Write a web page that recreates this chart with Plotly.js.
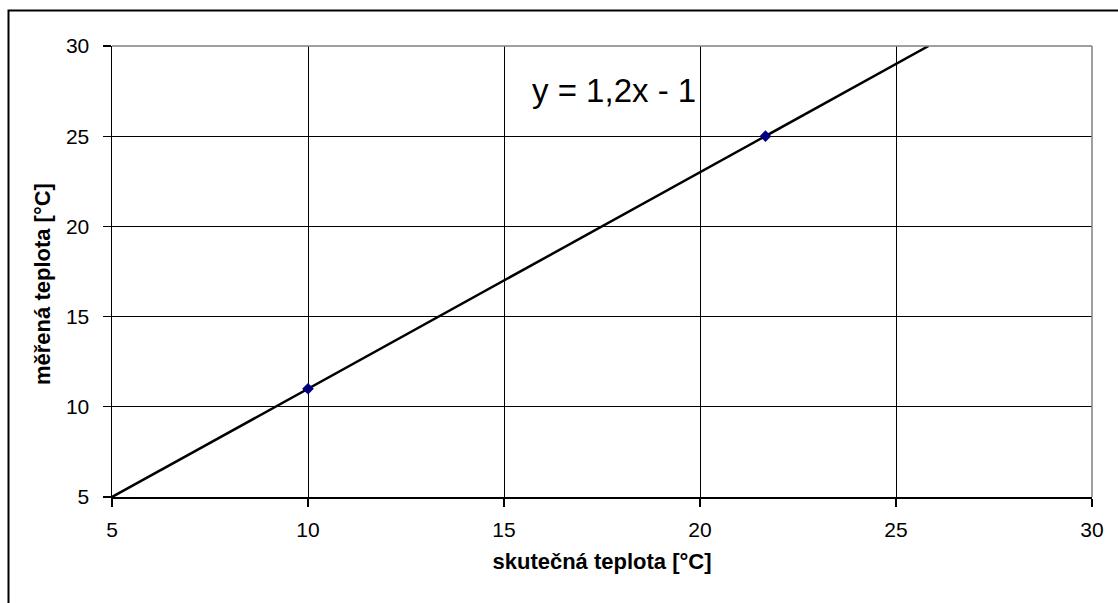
<!DOCTYPE html>
<html><head><meta charset="utf-8">
<script src="https://cdn.plot.ly/plotly-3.0.1.min.js"></script>
<style>html,body{margin:0;padding:0;background:#fff;}#chart{width:1118px;height:603px;}</style>
</head><body><div id="chart"></div>
<script>
// measured points
var pointX = [10, 21.67];
var pointY = [11, 25];
// trend line endpoints (y = 1,2x - 1)
var trendX = [5, 25.83];
var trendY = [5, 30];
var equationText = 'y = 1,2x - 1';
var xTitle = 'skutečná teplota [°C]';
var yTitle = 'měřená teplota [°C]';
var tickVals = [5, 10, 15, 20, 25, 30];

var W = 1118, H = 603, L = 112, R = 26, T = 46, B = 106;
var pw = W - L - R, ph = H - T - B;
function px2x(p){ return (p - L) / pw; }
function py2y(p){ return (H - B - p) / ph; }

var font = 'Arial, "Liberation Sans", sans-serif';
var traces = [
  {x: trendX, y: trendY, type: 'scatter', mode: 'lines', line: {color: '#000', width: 2.5}, hoverinfo: 'skip', cliponaxis: true},
  {x: pointX, y: pointY, type: 'scatter', mode: 'markers', marker: {symbol: 'diamond', size: 9, color: '#000080'}, cliponaxis: false}
];
function makeAxis(extra) {
  var a = {
    range: [5, 30],
    tickmode: 'array', tickvals: tickVals, ticktext: tickVals.map(String),
    showgrid: true, gridcolor: '#000', gridwidth: 1,
    zeroline: false, showline: true, linecolor: '#000', linewidth: 1.5,
    ticks: 'outside', ticklen: 8, tickcolor: '#000', tickwidth: 1.2,
    tickfont: {family: font, size: 21, color: '#000'}
  };
  for (var k in extra) a[k] = extra[k];
  return a;
}
var layout = {
  width: W, height: H,
  margin: {l: L, r: R, t: T, b: B},
  paper_bgcolor: '#fff', plot_bgcolor: '#fff',
  showlegend: false,
  font: {family: font, color: '#000', size: 21},
  xaxis: makeAxis({ticklabelstandoff: 5,
    title: {text: xTitle, font: {family: font, size: 22, weight: 'bold', color: '#000'}, standoff: 14}}),
  yaxis: makeAxis({ticklabelstandoff: 9}),
  annotations: [{
    x: 17.8, y: 27.55, xref: 'x', yref: 'y', text: equationText, showarrow: false,
    font: {family: font, size: 33, color: '#000'}, xanchor: 'center', yanchor: 'middle'
  }, {
    x: px2x(42), y: py2y(284), xref: 'paper', yref: 'paper', text: '<b>' + yTitle + '</b>', showarrow: false,
    textangle: -90, font: {family: font, size: 22, color: '#000'}, xanchor: 'center', yanchor: 'middle'
  }],
  shapes: [
    {type: 'line', xref: 'paper', yref: 'paper', x0: 0, x1: 1, y0: 1, y1: 1, line: {color: '#808080', width: 1.5}, layer: 'above'},
    {type: 'line', xref: 'paper', yref: 'paper', x0: 1, x1: 1, y0: 0, y1: 1, line: {color: '#808080', width: 1.5}, layer: 'above'},
    {type: 'rect', xref: 'paper', yref: 'paper', x0: px2x(8.5), x1: px2x(1130), y0: py2y(620), y1: py2y(10.5), line: {color: '#000', width: 2}, fillcolor: 'rgba(0,0,0,0)', layer: 'above'}
  ]
};
Plotly.newPlot('chart', traces, layout, {displayModeBar: false, staticPlot: true});
</script></body></html>
